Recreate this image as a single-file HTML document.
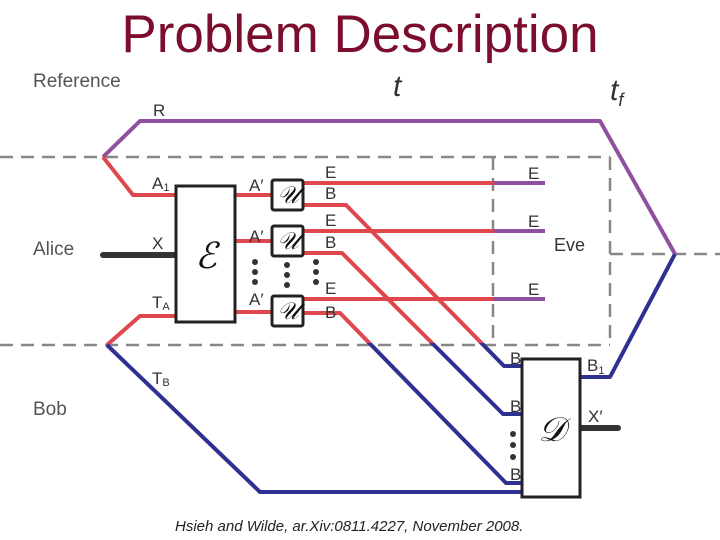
<!DOCTYPE html>
<html><head><meta charset="utf-8"><style>
body{margin:0;background:#fff;width:720px;height:540px;overflow:hidden}
svg{display:block}
text{font-family:"Liberation Sans",sans-serif}
</style></head><body>
<svg width="720" height="540" viewBox="0 0 720 540">
<defs>
<clipPath id="top"><rect x="0" y="0" width="720" height="343"/></clipPath>
<clipPath id="bot"><rect x="0" y="343" width="720" height="200"/></clipPath>
</defs>
<text x="360" y="52" font-size="53" fill="#7a0e2c" text-anchor="middle">Problem Description</text>
<g stroke="#888" stroke-width="2.5" stroke-dasharray="13,8" fill="none">
<line x1="0" y1="157" x2="610" y2="157"/>
<line x1="0" y1="345" x2="610" y2="345"/>
<line x1="493" y1="157" x2="493" y2="345"/>
<line x1="610" y1="157" x2="610" y2="345"/>
<line x1="610" y1="254" x2="720" y2="254"/>
</g>
<g fill="#555" font-size="19">
<text x="33" y="87">Reference</text>
<text x="33" y="255">Alice</text>
<text x="33" y="415">Bob</text>
</g>
<text x="393" y="96" font-size="30" font-style="italic" fill="#333" font-family="Liberation Serif">t</text>
<text x="610" y="100" font-size="30" font-style="italic" fill="#333" font-family="Liberation Serif">t<tspan font-size="18" dy="6">f</tspan></text>
<g fill="none" stroke-width="4" stroke-linejoin="round">
<polyline points="103,157 140,121 600,121 675,254" stroke="#9050a0"/>
<polyline points="675,254 610,377 580,377" stroke="#2e3192"/>
<polyline points="103,157 133,195 176,195" stroke="#e0474c"/>
<polyline points="107,345 140,316 176,316" stroke="#e0474c"/>
<polyline points="107,345 260,492 522,492" stroke="#2e3192"/>
<g stroke="#e0474c">
<line x1="235" y1="195" x2="272" y2="195"/>
<line x1="235" y1="241" x2="272" y2="241"/>
<line x1="235" y1="312" x2="272" y2="312"/>
<line x1="303" y1="183" x2="493" y2="183"/>
<line x1="303" y1="231" x2="493" y2="231"/>
<line x1="303" y1="299" x2="493" y2="299"/>
</g>
<g stroke="#9050a0">
<line x1="493" y1="183" x2="545" y2="183"/>
<line x1="493" y1="231" x2="545" y2="231"/>
<line x1="493" y1="299" x2="545" y2="299"/>
</g>
<g stroke="#e0474c" clip-path="url(#top)">
<polyline points="303,205 346,205 504,366 522,366"/>
<polyline points="303,253 342,253 503,414 522,414"/>
<polyline points="303,313 340,313 506,483 522,483"/>
</g>
<g stroke="#2e3192" clip-path="url(#bot)">
<polyline points="303,205 346,205 504,366 522,366"/>
<polyline points="303,253 342,253 503,414 522,414"/>
<polyline points="303,313 340,313 506,483 522,483"/>
</g>
</g>
<line x1="103" y1="255" x2="176" y2="255" stroke="#333" stroke-width="6" stroke-linecap="round"/>
<line x1="580" y1="428" x2="618" y2="428" stroke="#333" stroke-width="6" stroke-linecap="round"/>
<g fill="#fff" stroke="#222" stroke-width="3">
<rect x="176" y="186" width="59" height="136"/>
<rect x="272" y="180" width="31" height="30" rx="2"/>
<rect x="272" y="226" width="31" height="30" rx="2"/>
<rect x="272" y="296" width="31" height="30" rx="2"/>
<rect x="522" y="359" width="58" height="138"/>
</g>
<g font-family="Liberation Serif" font-style="italic" fill="#111" text-anchor="middle">
<text x="206" y="268" font-size="36">ℰ</text>
<text x="288" y="203" font-size="24">𝒰</text>
<text x="288" y="249" font-size="24">𝒰</text>
<text x="288" y="319" font-size="24">𝒰</text>
<text x="552" y="441" font-size="34">𝒟</text>
</g>
<g fill="#333">
<circle cx="255" cy="262" r="3"/><circle cx="255" cy="272" r="3"/><circle cx="255" cy="282" r="3"/>
<circle cx="287" cy="265" r="3"/><circle cx="287" cy="275" r="3"/><circle cx="287" cy="285" r="3"/>
<circle cx="316" cy="262" r="3"/><circle cx="316" cy="272" r="3"/><circle cx="316" cy="282" r="3"/>
<circle cx="513" cy="434" r="3"/><circle cx="513" cy="445" r="3"/><circle cx="513" cy="457" r="3"/>
</g>
<g fill="#333" font-size="17">
<text x="153" y="116">R</text>
<text x="152" y="189">A<tspan font-size="11" dy="2">1</tspan></text>
<text x="152" y="249">X</text>
<text x="152" y="308">T<tspan font-size="11" dy="2">A</tspan></text>
<text x="152" y="384">T<tspan font-size="11" dy="2">B</tspan></text>
<text x="249" y="191">A′</text>
<text x="249" y="242">A′</text>
<text x="249" y="305">A′</text>
<text x="325" y="178">E</text><text x="325" y="199">B</text>
<text x="325" y="226">E</text><text x="325" y="248">B</text>
<text x="325" y="294">E</text><text x="325" y="318">B</text>
<text x="528" y="179">E</text><text x="528" y="227">E</text><text x="528" y="295">E</text>
<text x="554" y="251" font-size="18">Eve</text>
<text x="510" y="364">B</text>
<text x="510" y="412">B</text>
<text x="510" y="480">B</text>
<text x="587" y="371">B<tspan font-size="11" dy="3">1</tspan></text>
<text x="588" y="422">X′</text>
</g>
<text x="175" y="531" font-size="15" font-style="italic" fill="#222">Hsieh and Wilde, ar.Xiv:0811.4227, November 2008.</text>
</svg>
</body></html>
